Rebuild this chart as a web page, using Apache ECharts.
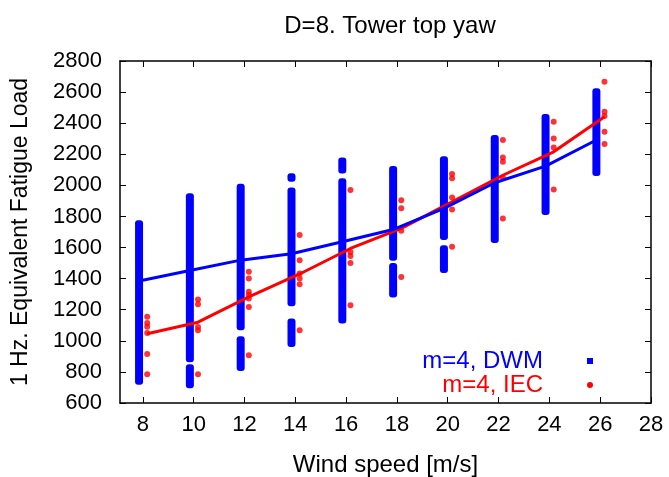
<!DOCTYPE html>
<html>
<head>
<meta charset="utf-8">
<script src="https://cdn.jsdelivr.net/npm/echarts@6/dist/echarts.min.js"></script>
<style>
  html, body { margin: 0; padding: 0; background: #fff; }
  #chart { width: 669px; height: 477px; }
</style>
</head>
<body>
<div id="chart"></div>
<script>
// Wind speed bins [m/s]
const windSpeeds = [8, 10, 12, 14, 16, 18, 20, 22, 24, 26];

// Mean 1 Hz equivalent fatigue load per bin
const dwmMean = [1385, 1452, 1519, 1560, 1637, 1716, 1852, 2017, 2124, 2292];
const iecMean = [1045, 1120, 1283, 1430, 1594, 1723, 1894, 2065, 2216, 2442];

// DWM realisations per bin, as covered load intervals [low, high]
const dwmSpread = [
  [[718, 1775]],
  [[695, 850], [862, 1950]],
  [[806, 1029], [1068, 2010]],
  [[961, 1143], [1223, 1987], [2023, 2078]],
  [[1111, 2045], [2077, 2180]],
  [[1279, 1500], [1515, 2124]],
  [[1437, 1615], [1648, 2188]],
  [[1630, 2324]],
  [[1809, 2459]],
  [[2060, 2624]]
];

// IEC realisations per bin
const iecLoads = [
  [1155, 1115, 1090, 1050, 915, 785],
  [1266, 1236, 1089, 1068, 785],
  [1444, 1401, 1315, 1294, 1272, 1218, 907],
  [1680, 1519, 1433, 1401, 1364, 1068],
  [1970, 1572, 1545, 1501, 1229],
  [1905, 1852, 1708, 1411],
  [2073, 2045, 1922, 1845, 1605],
  [2292, 2180, 2152, 2051, 1787],
  [2409, 2302, 2244, 1974],
  [2667, 2474, 2446, 2345, 2266]
];

// Axis ticks
const xTicks = [8, 10, 12, 14, 16, 18, 20, 22, 24, 26, 28];
const xMin = 7.1, xMax = 28;
const yMin = 600, yMax = 2800, yStep = 200;

// Small horizontal shifts so the two data sets sit side by side
const dwmShift = -0.15;
const iecShift = 0.17;

const BLUE = '#0000ff';
const RED = '#ff0000';
const FONT = 'Liberation Sans, Arial, sans-serif';

const dwmBars = [];
windSpeeds.forEach((ws, i) => {
  dwmSpread[i].forEach(([lo, hi]) => dwmBars.push([ws + dwmShift, lo, hi]));
});
const iecPts = [];
windSpeeds.forEach((ws, i) => {
  iecLoads[i].forEach(v => iecPts.push([ws + iecShift, v]));
});
const dwmLine = windSpeeds.map((ws, i) => [ws + dwmShift, dwmMean[i]]);
const iecLine = windSpeeds.map((ws, i) => [ws + iecShift, iecMean[i]]);

const chart = echarts.init(document.getElementById('chart'), null, { renderer: 'canvas' });

const tickStyle = { inside: true, length: 6, lineStyle: { color: '#000', width: 1 } };
const frameLine = { show: true, lineStyle: { color: '#000', width: 1.5 } };

chart.setOption({
  animation: false,
  backgroundColor: '#fff',
  title: {
    text: 'D=8. Tower top yaw',
    left: 385, top: 9, textAlign: 'center',
    textStyle: { fontFamily: FONT, fontSize: 24, fontWeight: 'normal', color: '#000' }
  },
  grid: { left: 120, right: 18, top: 61, bottom: 74, outerBoundsMode: 'none', containLabel: false },
  xAxis: [{
    type: 'value', min: xMin, max: xMax,
    axisLine: frameLine,
    axisTick: Object.assign({ customValues: xTicks }, tickStyle),
    axisLabel: { customValues: xTicks, color: '#000', fontFamily: FONT, fontSize: 22, margin: 11 },
    splitLine: { show: false },
    name: 'Wind speed [m/s]', nameLocation: 'middle', nameGap: 50,
    nameTextStyle: { color: '#000', fontFamily: FONT, fontSize: 24 }
  }, {
    type: 'value', min: xMin, max: xMax, position: 'top',
    axisLine: frameLine,
    axisTick: Object.assign({ customValues: xTicks }, tickStyle),
    axisLabel: { show: false },
    splitLine: { show: false }
  }],
  yAxis: [{
    type: 'value', min: yMin, max: yMax, interval: yStep,
    axisLine: frameLine,
    axisTick: tickStyle,
    axisLabel: { color: '#000', fontFamily: FONT, fontSize: 22, margin: 18, formatter: v => String(v) },
    splitLine: { show: false },
    name: '1 Hz. Equivalent Fatigue Load', nameLocation: 'middle', nameGap: 88,
    nameTextStyle: { color: '#000', fontFamily: FONT, fontSize: 23 }
  }, {
    type: 'value', min: yMin, max: yMax, interval: yStep, position: 'right',
    axisLine: frameLine,
    axisTick: tickStyle,
    axisLabel: { show: false },
    splitLine: { show: false }
  }],
  series: [{
    name: 'm=4, DWM',
    type: 'custom',
    data: dwmBars,
    encode: { x: 0, y: [1, 2] },
    z: 2,
    renderItem: (params, api) => {
      const top = api.coord([api.value(0), api.value(2)]);
      const bot = api.coord([api.value(0), api.value(1)]);
      return {
        type: 'rect',
        shape: { x: top[0] - 4, y: top[1], width: 8, height: bot[1] - top[1], r: 3 },
        style: { fill: BLUE }
      };
    }
  }, {
    name: 'm=4, IEC',
    type: 'scatter',
    data: iecPts,
    symbol: 'circle', symbolSize: 6,
    itemStyle: { color: RED },
    z: 3
  }, {
    type: 'line',
    data: iecLine,
    showSymbol: false,
    lineStyle: { color: RED, width: 3 },
    z: 4
  }, {
    type: 'line',
    data: dwmLine,
    showSymbol: false,
    lineStyle: { color: BLUE, width: 3 },
    z: 5
  }],
  graphic: [
    { type: 'text', x: 543, y: 361,
      style: { text: 'm=4, DWM', fill: BLUE, font: '24px ' + FONT, textAlign: 'right', textVerticalAlign: 'middle' } },
    { type: 'rect', x: 587, y: 358, shape: { width: 6, height: 6 }, style: { fill: BLUE } },
    { type: 'text', x: 543, y: 385,
      style: { text: 'm=4, IEC', fill: RED, font: '24px ' + FONT, textAlign: 'right', textVerticalAlign: 'middle' } },
    { type: 'circle', x: 590, y: 385, shape: { r: 3 }, style: { fill: RED } }
  ]
});
</script>
</body>
</html>
